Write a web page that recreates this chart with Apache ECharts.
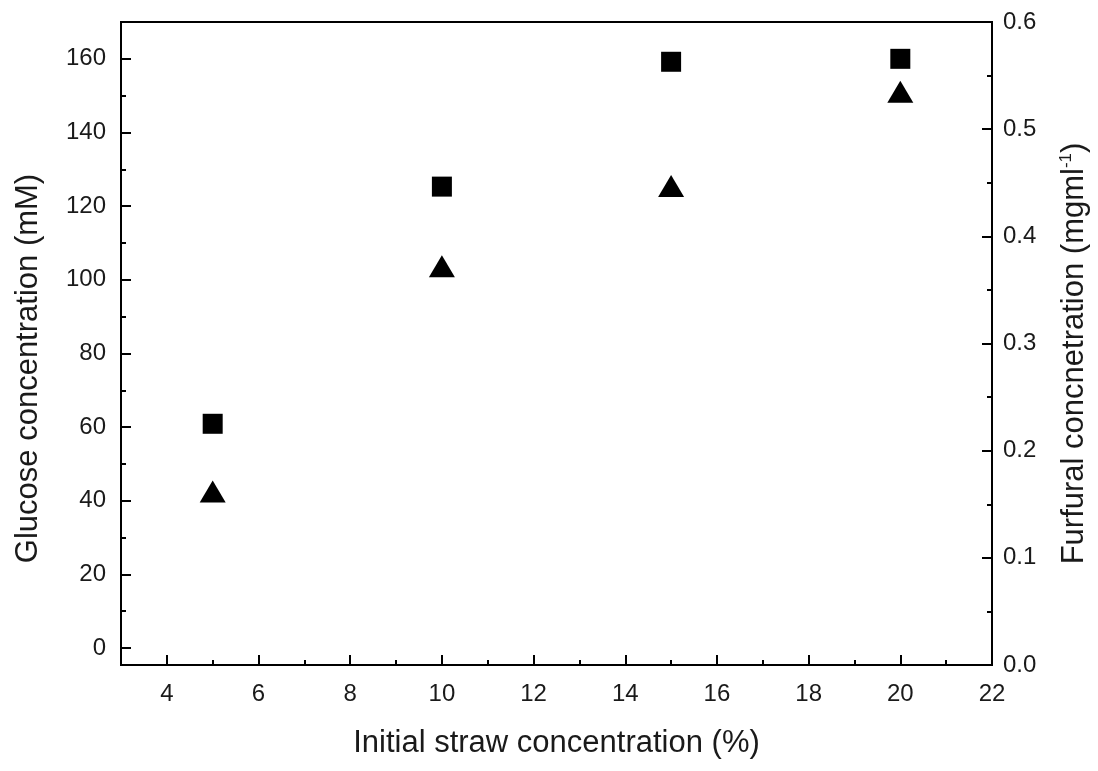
<!DOCTYPE html>
<html>
<head>
<meta charset="utf-8">
<script src="https://cdn.jsdelivr.net/npm/echarts@6/dist/echarts.min.js"></script>
<style>
  html, body { margin: 0; padding: 0; background: #fff; }
  #chart { width: 1098px; height: 771px; }
</style>
</head>
<body>
<div id="chart"></div>
<script>
// straw concentration (%)
const strawConc = [5, 10, 15, 20]
// glucose (mM), left axis, squares
const glucose = [60.9, 125.3, 159.2, 160.0]
// furfural (mg/ml), right axis, triangles
const furfural = [0.162, 0.372, 0.447, 0.535]

const font = 'Liberation Sans, Arial, sans-serif'
const black = '#000'
const textColor = '#1a1a1a'

const chart = echarts.init(document.getElementById('chart'))

const option = {
  backgroundColor: '#fff',
  animation: false,
  grid: {
    left: 121,
    right: 106,
    top: 22,
    bottom: 106,
    show: true,
    borderColor: black,
    borderWidth: 2
  },
  xAxis: {
    type: 'value',
    min: 3,
    max: 22,
    minInterval: 2,
    maxInterval: 2,
    name: 'Initial straw concentration (%)',
    nameLocation: 'middle',
    nameGap: 63,
    nameTextStyle: { fontFamily: font, fontSize: 31, color: textColor },
    axisLine: { show: true, onZero: false, lineStyle: { color: black, width: 2 } },
    axisTick: { show: true, inside: true, length: 10, lineStyle: { color: black, width: 2 } },
    minorTick: { show: true, splitNumber: 2, length: 5, lineStyle: { color: black, width: 2 } },
    axisLabel: { showMinLabel: false, fontFamily: font, fontSize: 24, color: textColor, margin: 17 },
    splitLine: { show: false },
    minorSplitLine: { show: false }
  },
  yAxis: [
    {
      type: 'value',
      position: 'left',
      min: -4.6,
      max: 170,
      minInterval: 20,
      maxInterval: 20,
      name: 'Glucose concentration (mM)',
      nameLocation: 'middle',
      nameRotate: 90,
      nameGap: 77,
      nameTextStyle: { fontFamily: font, fontSize: 31, color: textColor, padding: [0, 50, 0, 0] },
      axisLine: { show: true, onZero: false, lineStyle: { color: black, width: 2 } },
      axisTick: { show: true, inside: true, length: 10, lineStyle: { color: black, width: 2 } },
      minorTick: { show: true, splitNumber: 2, length: 5, lineStyle: { color: black, width: 2 } },
      axisLabel: { showMinLabel: false, showMaxLabel: false, fontFamily: font, fontSize: 24, color: textColor, margin: 15 },
      splitLine: { show: false }
    },
    {
      type: 'value',
      position: 'right',
      min: 0,
      max: 0.6,
      interval: 0.1,
      name: 'Furfural concnetration (mgml{sup|-1})',
      nameLocation: 'middle',
      nameRotate: 90,
      nameGap: 66,
      nameTextStyle: {
        fontFamily: font, fontSize: 31, color: textColor, padding: [0, 20, 0, 0],
        rich: { sup: { fontFamily: font, fontSize: 17, verticalAlign: 'top', color: textColor, padding: [0, 0, 15, 0] } }
      },
      axisLine: { show: true, onZero: false, lineStyle: { color: black, width: 2 } },
      axisTick: { show: true, inside: true, length: 10, lineStyle: { color: black, width: 2 } },
      minorTick: { show: true, splitNumber: 2, length: 5, lineStyle: { color: black, width: 2 } },
      axisLabel: {
        fontFamily: font, fontSize: 24, color: textColor, margin: 11,
        formatter: (v) => v.toFixed(1)
      },
      splitLine: { show: false }
    }
  ],
  series: [
    {
      name: 'Glucose',
      type: 'scatter',
      yAxisIndex: 0,
      symbol: 'rect',
      symbolSize: 20,
      itemStyle: { color: black, opacity: 1 },
      data: strawConc.map((x, i) => [x, glucose[i]])
    },
    {
      name: 'Furfural',
      type: 'scatter',
      yAxisIndex: 1,
      symbol: 'triangle',
      symbolSize: [26, 22],
      itemStyle: { color: black, opacity: 1 },
      data: strawConc.map((x, i) => [x, furfural[i]])
    }
  ]
}

chart.setOption(option)
</script>
</body>
</html>
